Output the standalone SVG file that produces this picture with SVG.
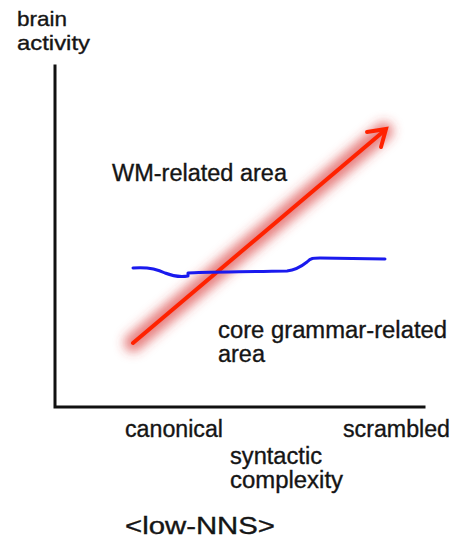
<svg xmlns="http://www.w3.org/2000/svg" width="456" height="543" viewBox="0 0 456 543">
<defs>
<style>
.t{font-family:"Liberation Sans",Arial,sans-serif;font-size:23px;fill:#151515;stroke:#151515;stroke-width:0.35px;}
.s{font-size:21px;}
.axis{stroke:#111;stroke-width:3;fill:none;stroke-linecap:square;}
</style>
<filter id="glow" x="-30%" y="-30%" width="160%" height="160%">
<feGaussianBlur stdDeviation="5.5"/>
</filter>
</defs>
<rect width="456" height="543" fill="#fff"/>
<g id="axes">
<polyline class="axis" points="55,66 55,407 424,407"/>
</g>
<g id="labels">
<text class="t s" x="17" y="26" textLength="50" lengthAdjust="spacingAndGlyphs">brain</text>
<text class="t s" x="17" y="50" textLength="73" lengthAdjust="spacingAndGlyphs">activity</text>
<text class="t" x="125" y="437" textLength="98" lengthAdjust="spacingAndGlyphs">canonical</text>
<text class="t" x="343" y="437" textLength="107" lengthAdjust="spacingAndGlyphs">scrambled</text>
<text class="t" x="230" y="464" textLength="92" lengthAdjust="spacingAndGlyphs">syntactic</text>
<text class="t" x="230" y="488" textLength="113" lengthAdjust="spacingAndGlyphs">complexity</text>
<text class="t" x="125" y="534" textLength="150" lengthAdjust="spacingAndGlyphs">&lt;low-NNS&gt;</text>
</g>
<g id="wm-arrow">
<line x1="133" y1="343" x2="384" y2="131" stroke="#d83a3a" stroke-width="18" stroke-opacity="0.65" stroke-linecap="round" filter="url(#glow)"/>
<line x1="133" y1="343" x2="384" y2="131" stroke="#ff2200" stroke-width="4" stroke-linecap="round"/>
<polyline points="367,132 386,129 381,147" fill="none" stroke="#ff2200" stroke-width="4" stroke-linecap="round" stroke-linejoin="miter"/>
<text class="t" x="112" y="181" textLength="175" lengthAdjust="spacingAndGlyphs">WM-related area</text>
</g>
<g id="core-line">
<path d="M133,268 C145,267 155,268 165,273 C175,277 182,277 188,276 L188,273 C200,272 230,272 287,271 C296,270 302,266 307,262 C311,258 313,258 320,258 L385,259" fill="none" stroke="#1a1aee" stroke-width="3" stroke-linecap="round" stroke-linejoin="round"/>
<text class="t" x="218" y="338" textLength="229" lengthAdjust="spacingAndGlyphs">core grammar-related</text>
<text class="t" x="218" y="362" textLength="47" lengthAdjust="spacingAndGlyphs">area</text>
</g>
</svg>
